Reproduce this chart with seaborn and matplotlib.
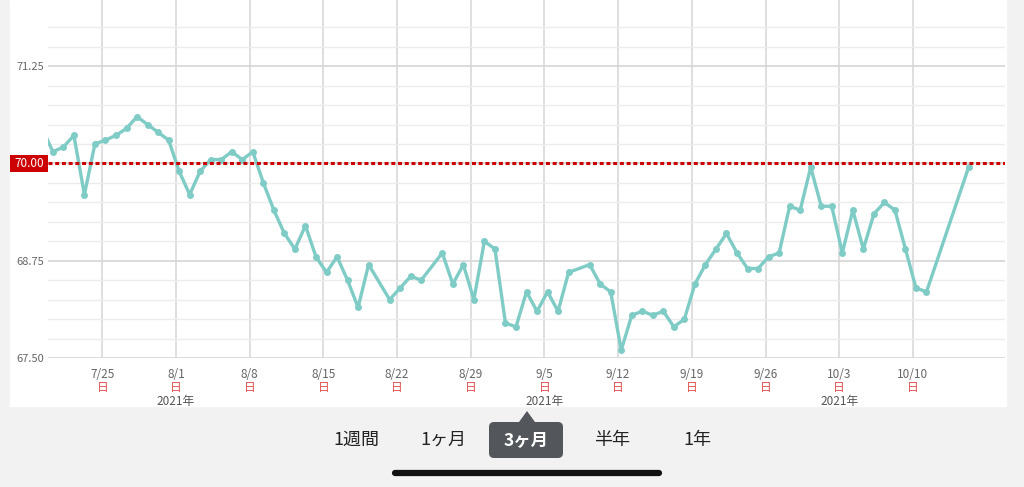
import warnings

warnings.filterwarnings('ignore')
import matplotlib
matplotlib.use('Agg')
import pandas as pd
import seaborn as sns
import matplotlib.pyplot as plt
import matplotlib.transforms as mtrans
from matplotlib.patches import Rectangle, FancyBboxPatch, Polygon
from matplotlib.lines import Line2D

# daily weight readings (kg)
dates = ['2021-07-19', '2021-07-20', '2021-07-21', '2021-07-22', '2021-07-23', '2021-07-24',
         '2021-07-25', '2021-07-26', '2021-07-27', '2021-07-28', '2021-07-29', '2021-07-30',
         '2021-07-31', '2021-08-01', '2021-08-02', '2021-08-03', '2021-08-04', '2021-08-05',
         '2021-08-06', '2021-08-07', '2021-08-08', '2021-08-09', '2021-08-10', '2021-08-11',
         '2021-08-12', '2021-08-13', '2021-08-14', '2021-08-15', '2021-08-16', '2021-08-17',
         '2021-08-18', '2021-08-19', '2021-08-21', '2021-08-22', '2021-08-23', '2021-08-24',
         '2021-08-26', '2021-08-27', '2021-08-28', '2021-08-29', '2021-08-30', '2021-08-31',
         '2021-09-01', '2021-09-02', '2021-09-03', '2021-09-04', '2021-09-05', '2021-09-06',
         '2021-09-07', '2021-09-09', '2021-09-10', '2021-09-11', '2021-09-12', '2021-09-13',
         '2021-09-14', '2021-09-15', '2021-09-16', '2021-09-17', '2021-09-18', '2021-09-19',
         '2021-09-20', '2021-09-21', '2021-09-22', '2021-09-23', '2021-09-24', '2021-09-25',
         '2021-09-26', '2021-09-27', '2021-09-28', '2021-09-29', '2021-09-30', '2021-10-01',
         '2021-10-02', '2021-10-03', '2021-10-04', '2021-10-05', '2021-10-06', '2021-10-07',
         '2021-10-08', '2021-10-09', '2021-10-10', '2021-10-11', '2021-10-15']
weights = [70.45, 70.15, 70.21, 70.36, 69.60, 70.25,
           70.30, 70.36, 70.45, 70.60, 70.50, 70.40,
           70.30, 69.90, 69.60, 69.90, 70.05, 70.05,
           70.15, 70.05, 70.15, 69.75, 69.40, 69.10,
           68.90, 69.20, 68.80, 68.60, 68.80, 68.50,
           68.15, 68.70, 68.25, 68.40, 68.55, 68.50,
           68.85, 68.45, 68.70, 68.25, 69.00, 68.90,
           67.95, 67.90, 68.35, 68.10, 68.35, 68.10,
           68.60, 68.70, 68.45, 68.35, 67.60, 68.05,
           68.10, 68.05, 68.10, 67.90, 68.00, 68.45,
           68.70, 68.90, 69.10, 68.85, 68.65, 68.65,
           68.80, 68.85, 69.45, 69.40, 69.95, 69.45,
           69.45, 68.85, 69.40, 68.90, 69.35, 69.50,
           69.40, 68.90, 68.40, 68.35, 69.95]

goal = 70.00
week_ticks = ['2021-07-25', '2021-08-01', '2021-08-08', '2021-08-15', '2021-08-22', '2021-08-29',
              '2021-09-05', '2021-09-12', '2021-09-19', '2021-09-26', '2021-10-03', '2021-10-10']
week_labels = ['7/25', '8/1', '8/8', '8/15', '8/22', '8/29', '9/5', '9/12', '9/19', '9/26', '10/3', '10/10']
year_ticks = ['2021-08-01', '2021-09-05', '2021-10-03']
y_labels = [67.50, 68.75, 71.25]
y_minor = [67.75, 68.00, 68.25, 68.50, 69.00, 69.25, 69.50, 69.75,
           70.25, 70.50, 70.75, 71.00, 71.50, 71.75]
tabs = ['1週間', '1ヶ月', '3ヶ月', '半年', '1年']

sns.set_style('white')
plt.rcParams['font.family'] = ['Noto Sans CJK JP', 'DejaVu Sans']

fig = plt.figure(figsize=(10.24, 4.87), dpi=100, facecolor='#f2f2f2')
px = fig.dpi_scale_trans


def P(x, y):
    # pixel position (from top-left) -> inches
    return x / 100, (487 - y) / 100


# white chart panel
fig.patches.append(Rectangle(P(10, 406), 9.96, 4.06, transform=px, color='white', zorder=-5))

ax = fig.add_axes([48 / 1024, 129 / 487, 957 / 1024, 358 / 487])
ax.set_zorder(2)
ax.set_facecolor('white')

df = pd.DataFrame({'date': pd.to_datetime(dates) + pd.Timedelta(hours=7), 'weight': weights})
sns.lineplot(data=df, x='date', y='weight', ax=ax, color='#7fcbc6', linewidth=2.4,
             marker='o', markersize=5, markeredgewidth=0, zorder=3)

ax.axhline(goal, color='#cc0000', lw=2.2, ls=(0, (1.3, 0.9)), zorder=4)

ax.set_xlim(pd.Timestamp('2021-07-19 20:00'), pd.Timestamp('2021-10-18 18:00'))
ax.set_ylim(67.5, 72.1)
ax.set_xlabel('')
ax.set_ylabel('')

ax.set_yticks(y_labels + [goal])
ax.set_yticklabels(['%.2f' % v for v in y_labels] + [''])
ax.set_yticks(y_minor, minor=True)
ax.set_xticks(pd.to_datetime(week_ticks))
ax.set_xticklabels(week_labels)
ax.tick_params(axis='y', which='both', length=0, labelsize=8, labelcolor='#666666', pad=3)
ax.tick_params(axis='x', length=4, width=1.2, color='#d9d9d9', labelsize=8.5,
               labelcolor='#666666', pad=3)

ax.grid(which='minor', axis='y', color='#ececec', lw=1)
ax.grid(which='major', axis='y', color='#d6d6d6', lw=1.2)
ax.grid(which='major', axis='x', color='#d9d9d9', lw=1.2)
ax.set_axisbelow(True)
for s in ax.spines.values():
    s.set_visible(False)

xt = ax.get_xaxis_transform()
for d in week_ticks:
    ax.text(pd.Timestamp(d), -30 / 358, '日', transform=xt, ha='center', va='center',
            color='#e05050', fontsize=8.5, clip_on=False)
for d in year_ticks:
    ax.text(pd.Timestamp(d), -44 / 358, '2021年', transform=xt, ha='center', va='center',
            color='#555555', fontsize=8.5, clip_on=False)

# goal label
yt = mtrans.blended_transform_factory(ax.transAxes, ax.transData)
ax.add_patch(Rectangle((-38 / 957, goal - 0.105), 38 / 957, 0.21, transform=yt,
                       fc='#cc0000', ec='none', clip_on=False, zorder=5))
ax.text(-19 / 957, goal, '%.2f' % goal, transform=yt, ha='center', va='center', color='white',
        fontsize=8.5, clip_on=False, zorder=6)

# period selector
tab_x = [356, 443, 526, 612, 697]
fig.patches.append(FancyBboxPatch(P(489, 458), 0.74, 0.36, boxstyle='round,pad=0,rounding_size=0.05',
                                  transform=px, fc='#53575b', ec='none'))
fig.patches.append(Polygon([P(519, 422), P(535, 422), P(527, 411)], closed=True, transform=px,
                           fc='#53575b', ec='none'))
for t, x in zip(tabs, tab_x):
    if t == '3ヶ月':
        fig.text(*P(x, 440), t, transform=px, ha='center', va='center', color='white',
                 fontsize=12.5, fontweight='bold')
    else:
        fig.text(*P(x, 440), t, transform=px, ha='center', va='center', color='#222222', fontsize=13)

# home indicator
fig.lines.append(Line2D([3.95, 6.59], [0.14, 0.14], transform=px, color='#111111', lw=4.5,
                        solid_capstyle='round'))

fig.savefig('out.png', dpi=100, facecolor=fig.get_facecolor())
